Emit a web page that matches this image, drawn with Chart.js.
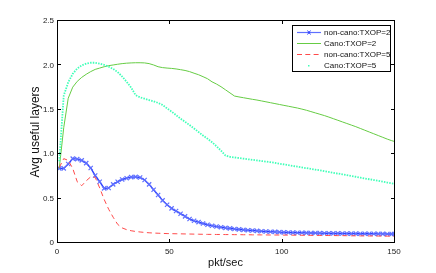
<!DOCTYPE html>
<html><head><meta charset="utf-8">
<script src="https://cdn.jsdelivr.net/npm/chart.js@4/dist/chart.umd.min.js"></script>
<style>
html,body{margin:0;padding:0;background:#fff;}
#wrap{position:relative;width:436px;height:273px;}
#legend{position:absolute;left:292px;top:25px;width:99px;height:47px;box-sizing:border-box;border:1px solid #000;background:#fff;font:8px "Liberation Sans",Arial,sans-serif;color:#111;padding-top:1px;}
.row{position:relative;height:11px;line-height:11px;}
.row svg{position:absolute;left:4px;top:0;}
.row span{position:absolute;left:31px;top:0;white-space:nowrap;}
</style></head><body>
<div id="wrap"><canvas id="c"></canvas><div id="legend"></div></div>
<script>
const rates = [1,3,5,7,9,11,13,15,17,19,21,23,25,27,29,31,33,35,37,39,41,43,45,47,49,51,53,55,57,59,61,63,65,67,69,71,73,75,77,79,81,83,85,87,89,91,93,95,97,99,101,103,105,107,109,111,113,115,117,119,121,123,125,127,129,131,133,135,137,139,141,143,145,147,149,150];
const nonCanoTxop2 = [0.84,0.84,0.89,0.95,0.945,0.93,0.90,0.845,0.76,0.69,0.615,0.62,0.66,0.69,0.715,0.73,0.742,0.745,0.738,0.71,0.66,0.60,0.54,0.48,0.43,0.39,0.36,0.33,0.30,0.27,0.25,0.235,0.22,0.205,0.195,0.185,0.177,0.17,0.165,0.158,0.153,0.148,0.144,0.14,0.137,0.133,0.13,0.127,0.125,0.122,0.12,0.119,0.117,0.116,0.115,0.114,0.113,0.112,0.111,0.11,0.109,0.108,0.108,0.107,0.107,0.106,0.106,0.105,0.105,0.104,0.104,0.103,0.103,0.102,0.102,0.102];
const canoTxop2 = [0.84,1.3,1.63,1.755,1.82,1.865,1.90,1.93,1.955,1.97,1.985,1.997,2.005,2.013,2.02,2.025,2.028,2.03,2.03,2.028,2.02,2.005,1.985,1.975,1.97,1.966,1.96,1.952,1.943,1.93,1.912,1.895,1.873,1.85,1.815,1.79,1.76,1.725,1.69,1.655,1.645,1.636,1.627,1.618,1.61,1.60,1.59,1.58,1.57,1.56,1.55,1.54,1.53,1.52,1.508,1.495,1.48,1.465,1.45,1.435,1.418,1.40,1.382,1.364,1.346,1.328,1.31,1.29,1.27,1.25,1.23,1.21,1.19,1.17,1.152,1.145];
const nonCanoTxop5 = [0.85,0.95,0.93,0.84,0.69,0.645,0.70,0.745,0.74,0.62,0.49,0.38,0.29,0.21,0.17,0.15,0.138,0.13,0.124,0.119,0.115,0.112,0.11,0.108,0.106,0.105,0.104,0.103,0.102,0.101,0.1,0.099,0.098,0.097,0.097,0.096,0.096,0.095,0.095,0.094,0.094,0.093,0.093,0.092,0.092,0.091,0.091,0.09,0.09,0.09,0.089,0.089,0.088,0.088,0.087,0.087,0.086,0.086,0.085,0.085,0.084,0.084,0.083,0.083,0.082,0.081,0.081,0.08,0.08,0.079,0.079,0.078,0.078,0.077,0.077,0.076];
const canoTxop5 = [0.92,1.66,1.81,1.905,1.965,2.0,2.02,2.03,2.03,2.02,2.005,1.985,1.96,1.925,1.875,1.815,1.75,1.665,1.64,1.625,1.61,1.595,1.578,1.555,1.515,1.48,1.44,1.40,1.365,1.328,1.29,1.25,1.21,1.175,1.135,1.09,1.04,0.985,0.97,0.963,0.957,0.95,0.943,0.937,0.93,0.923,0.917,0.91,0.902,0.893,0.885,0.876,0.868,0.86,0.851,0.843,0.835,0.826,0.818,0.809,0.8,0.791,0.782,0.773,0.764,0.755,0.746,0.737,0.727,0.718,0.709,0.7,0.69,0.681,0.672,0.668];
const seriesLabels = ['non-cano:TXOP=2','Cano:TXOP=2','non-cano:TXOP=5','Cano:TXOP=5'];
const xTicks = [0,50,100,150];
const yTicks = [0,0.5,1,1.5,2,2.5];
const xTitle = 'pkt/sec';
const yTitle = 'Avg useful layers';

const pts = arr => arr.map((v,i)=>({x:rates[i],y:v}));
const FONT = '"Liberation Sans", Arial, Helvetica, sans-serif';
Chart.defaults.font.family = FONT;

const frame = {
  id:'frame',
  afterDatasetsDraw(chart){
    const {ctx, scales:{x,y}} = chart;
    const L = Math.round(x.getPixelForValue(xTicks[0]))+0.5;
    const R = Math.round(x.getPixelForValue(xTicks[xTicks.length-1]))+0.5;
    const B = Math.round(y.getPixelForValue(yTicks[0]))-0.5;
    const T = Math.round(y.getPixelForValue(yTicks[yTicks.length-1]))-0.5;
    ctx.save();
    ctx.strokeStyle='#000'; ctx.lineWidth=1;
    ctx.strokeRect(L,T,R-L,B-T);
    ctx.beginPath();
    const tl=3.5;
    xTicks.forEach(v=>{const p=Math.round(x.getPixelForValue(v))+0.5; ctx.moveTo(p,B); ctx.lineTo(p,B-tl); ctx.moveTo(p,T); ctx.lineTo(p,T+tl);});
    yTicks.forEach(v=>{const p=Math.round(y.getPixelForValue(v))-0.5; ctx.moveTo(L,p); ctx.lineTo(L+tl,p); ctx.moveTo(R,p); ctx.lineTo(R-tl,p);});
    ctx.stroke();
    ctx.restore();
  }
};

const colors = {blue:'#2a3cff', blueMk:'#5f70ff', green:'#66cc44', red:'#ff4a4a', cyan:'#40ffb8'};

new Chart(document.getElementById('c'), {
  type:'line',
  data:{datasets:[
    {label:seriesLabels[3], data:pts(canoTxop5), borderColor:colors.cyan, borderWidth:1.8, borderDash:[1.5,1.2], pointRadius:0, fill:false, order:1},
    {label:seriesLabels[2], data:pts(nonCanoTxop5), borderColor:colors.red, borderWidth:1, borderDash:[5,3.5], pointRadius:0, fill:false, order:2},
    {label:seriesLabels[1], data:pts(canoTxop2), borderColor:colors.green, borderWidth:1, pointRadius:0, fill:false, order:3},
    {label:seriesLabels[0], data:pts(nonCanoTxop2), borderColor:colors.blue, borderWidth:1.4, pointStyle:'crossRot', pointRadius:3, pointBorderWidth:1.2, pointBorderColor:colors.blueMk, pointBackgroundColor:colors.blueMk, fill:false, order:4}
  ]},
  options:{
    responsive:true, maintainAspectRatio:false, animation:false, devicePixelRatio:1,
    layout:{padding:{left:0, right:42, top:21, bottom:0}},
    plugins:{legend:{display:false}, tooltip:{enabled:false}},
    elements:{line:{tension:0}},
    scales:{
      x:{type:'linear', min:0, max:150, border:{display:false},
         grid:{display:false, drawTicks:false},
         afterBuildTicks(s){ s.ticks = xTicks.map(v=>({value:v})); },
         afterFit(s){ s.height = 30; },
         ticks:{autoSkip:false, maxRotation:0, padding:4, color:'#222', font:{size:8}},
         title:{display:true, text:xTitle, color:'#111', font:{size:11}, padding:{top:0,bottom:3.4}}},
      y:{type:'linear', min:0, max:2.5, border:{display:false},
         grid:{display:false, drawTicks:false},
         afterBuildTicks(s){ s.ticks = yTicks.map(v=>({value:v})); },
         afterFit(s){ s.width = 57; },
         ticks:{padding:3, color:'#222', font:{size:8}},
         title:{display:true, text:yTitle, color:'#111', font:{size:12}, padding:{top:28.3,bottom:0}}}
    }
  },
  plugins:[frame]
});

// legend built from series labels
const legendSpecs = [
  {label:seriesLabels[0], svg:`<line x1="0" y1="5.5" x2="24" y2="5.5" stroke="${colors.blueMk}" stroke-width="1.2"/><path d="M10.5 3.5 L13.5 7.5 M13.5 3.5 L10.5 7.5" stroke="${colors.blue}" stroke-width="1"/>`},
  {label:seriesLabels[1], svg:`<line x1="0" y1="5.5" x2="24" y2="5.5" stroke="${colors.green}" stroke-width="1"/>`},
  {label:seriesLabels[2], svg:`<line x1="0" y1="5.5" x2="24" y2="5.5" stroke="${colors.red}" stroke-width="1" stroke-dasharray="5 3.3"/>`},
  {label:seriesLabels[3], svg:`<rect x="11" y="5" width="1.5" height="1.5" fill="${colors.cyan}"/>`}
];
const lg = document.getElementById('legend');
legendSpecs.forEach(s=>{
  const row=document.createElement('div'); row.className='row';
  row.innerHTML=`<svg width="24" height="11" viewBox="0 0 24 11">${s.svg}</svg>`;
  const sp=document.createElement('span'); sp.textContent=s.label; row.appendChild(sp);
  lg.appendChild(row);
});
</script>
</body></html>
